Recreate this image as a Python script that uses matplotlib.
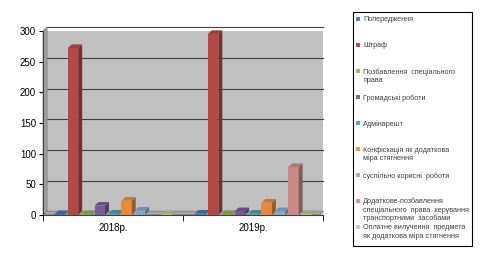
import numpy as np
import matplotlib.pyplot as plt
from matplotlib.patches import Polygon, Rectangle

# Data
years = ['2018р.', '2019р.']
series = [
    'Попередження',
    'Штраф',
    'Позбавлення  спеціального\nправа',
    'Громадські роботи',
    'Адмінарешт',
    'Конфіскація як додаткова\nміра стягнення',
    'суспільно корисні  роботи',
    'Додаткове-позбавлення\nспеціального  права  керування\nтранспортними  засобами',
    'Оплатне вилучення  предмета\nяк додаткова міра стягнення',
]
values_2018 = [1, 272, 1, 15, 2, 23, 7, 0, 0.5]
values_2019 = [2, 295, 1, 6, 2, 20, 6, 78, 0.5]
colors = ['#4F81BD', '#C0504D', '#9BBB59', '#8064A2', '#4BACC6',
          '#F79646', '#95B3D7', '#D99694', '#C3D69B']


def shade(c, f):
    r, g, b = plt.matplotlib.colors.to_rgb(c)
    return (r * f, g * f, b * f)


plt.rcParams['font.family'] = ['Liberation Sans', 'DejaVu Sans']

W, H = 490, 264
fig = plt.figure(figsize=(4.9, 2.64), dpi=100)
ax = fig.add_axes([0.088, 0.186, 0.572, 0.697])
ax.set_facecolor('#C0C0C0')

ax.set_xlim(-0.5, 1.5)
ax.set_ylim(0, 300)

n = len(series)
slot = 0.86 / n
bw = slot * 0.78
dx = 0.028   # depth offset in x (data units)
dy = 6.0     # depth offset in y (data units)

# gridlines on the back wall
for yv in range(50, 301, 50):
    ax.plot([-0.5 + dx, 1.5], [yv + dy, yv + dy], color='#404040', lw=0.8,
            zorder=1, clip_on=False)

# floor
floor = Polygon([(-0.5, 0), (1.5 - dx, 0), (1.5, dy), (-0.5 + dx, dy)],
                closed=True, facecolor='#A6A6A6', edgecolor='#808080',
                lw=0.6, zorder=2, clip_on=False)
ax.add_patch(floor)
# left wall strip
lwall = Polygon([(-0.5, 0), (-0.5 + dx, dy), (-0.5 + dx, 300 + dy), (-0.5, 300)],
                closed=True, facecolor='#A0A0A0', edgecolor='#808080',
                lw=0.6, zorder=2, clip_on=False)
ax.add_patch(lwall)

for gi, vals in enumerate([values_2018, values_2019]):
    for si, v in enumerate(vals):
        if v <= 0:
            continue
        x0 = gi - 0.43 + si * slot + (slot - bw) / 2
        h = max(v, 1.2)
        c = colors[si]
        ax.add_patch(Rectangle((x0, 0), bw, h, facecolor=shade(c, 0.92),
                               edgecolor='none', zorder=3 + si * 0.1, clip_on=False))
        ax.add_patch(Polygon([(x0 + bw, 0), (x0 + bw + dx, dy), (x0 + bw + dx, h + dy),
                              (x0 + bw, h)], closed=True, facecolor=shade(c, 0.6),
                             edgecolor='none', zorder=3 + si * 0.1, clip_on=False))
        ax.add_patch(Polygon([(x0, h), (x0 + dx, h + dy), (x0 + bw + dx, h + dy),
                              (x0 + bw, h)], closed=True, facecolor=shade(c, 0.8),
                             edgecolor='none', zorder=3 + si * 0.1, clip_on=False))

ax.set_xticks([0, 1])
ax.set_xticklabels(years, fontsize=7)
ax.set_xticks([-0.5, 0.5, 1.5], minor=True)
ax.tick_params(axis='x', which='major', length=0, pad=6)
ax.tick_params(axis='x', which='minor', length=4, direction='out')
ax.set_yticks(range(0, 301, 50))
ax.tick_params(axis='y', labelsize=7, length=3, direction='out', pad=2)

for s in ['top', 'right']:
    ax.spines[s].set_visible(False)
ax.spines['left'].set_color('#404040')
ax.spines['bottom'].set_color('#404040')

# legend drawn by hand (box + squares + labels), in figure pixels
fig.patches.append(Rectangle((353 / W, 1 - 246 / H), 119 / W, 234 / H,
                             transform=fig.transFigure, facecolor='white',
                             edgecolor='black', lw=0.8))
for i, (lab, c) in enumerate(zip(series, colors)):
    ytop = 16 + i * 26
    fig.patches.append(Rectangle((356 / W, 1 - (ytop + 5) / H), 4 / W, 4 / H,
                                 transform=fig.transFigure, facecolor=c,
                                 edgecolor='none'))
    fig.text(363 / W, 1 - ytop / H, lab, fontsize=5.2, color='#404040',
             va='top', ha='left', linespacing=1.15)

fig.savefig('out.png', dpi=100)
